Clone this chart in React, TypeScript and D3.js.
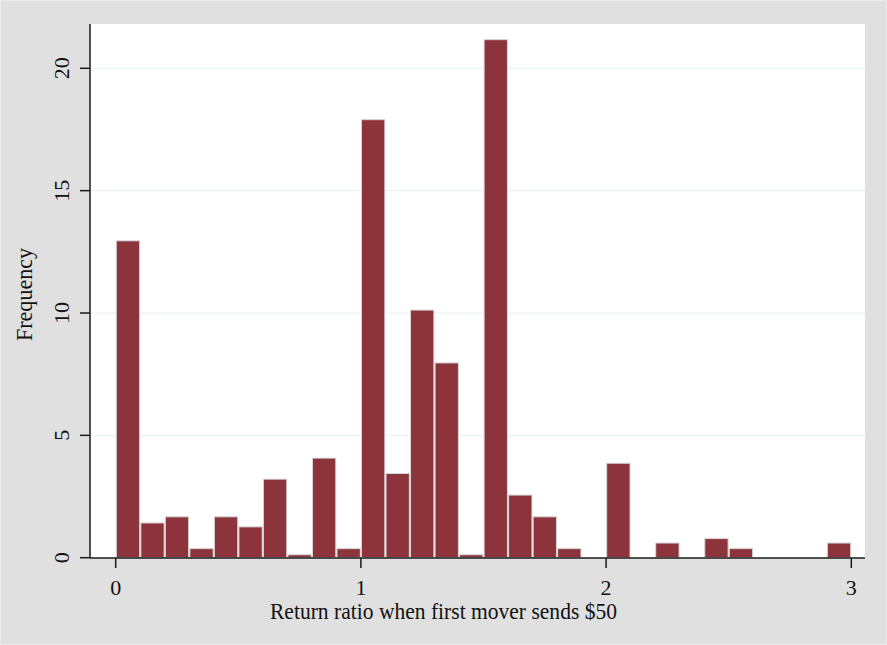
import React from "react";
import * as d3 from "d3";

const binStarts = [0, 0.1, 0.2, 0.3, 0.4, 0.5, 0.6, 0.7, 0.8, 0.9, 1.0, 1.1, 1.2, 1.3, 1.4, 1.5, 1.6, 1.7, 1.8, 1.9, 2.0, 2.1, 2.2, 2.3, 2.4, 2.5, 2.6, 2.7, 2.8, 2.9];
const frequencies = [12.95, 1.42, 1.67, 0.37, 1.67, 1.26, 3.21, 0.12, 4.07, 0.37, 17.9, 3.44, 10.12, 7.96, 0.12, 21.17, 2.56, 1.67, 0.37, 0, 3.86, 0, 0.6, 0, 0.78, 0.37, 0, 0, 0, 0.6];
const binWidth = 0.1;
const xTicks = [0, 1, 2, 3];
const yTicks = [0, 5, 10, 15, 20];
const xTitle = "Return ratio when first mover sends $50";
const yTitle = "Frequency";

const W = 887;
const H = 645;
const plotLeft = 90;
const plotRight = 865;
const plotTop = 24;
const plotBottom = 558;

export default function App() {
  const x = d3.scaleLinear().domain([0, 3]).range([115.7, 851.3]);
  const y = d3.scaleLinear().domain([0, 20]).range([557.7, 68.3]);
  const font = "'Liberation Serif', 'Times New Roman', serif";
  const barColor = "#8c333b";

  return (
    <svg width={W} height={H} style={{ position: "absolute", left: 0, top: 0, display: "block" }}>
      <rect x={0.5} y={0.5} width={W - 1} height={H - 1} fill="#e0e0e0" stroke="#ebebeb" strokeWidth={1} />
      <rect x={plotLeft} y={plotTop} width={plotRight - plotLeft} height={plotBottom - plotTop} fill="#ffffff" />
      {yTicks.slice(1).map((t) => (
        <line key={"g" + t} x1={plotLeft} x2={plotRight} y1={y(t)} y2={y(t)} stroke="#e8f0f2" strokeWidth={1} />
      ))}
      {binStarts.map((b, i) =>
        frequencies[i] > 0 ? (
          <rect
            key={"b" + i}
            x={x(b) + 0.6}
            y={y(frequencies[i])}
            width={x(b + binWidth) - x(b) - 1.2}
            height={y(0) - y(frequencies[i])}
            fill={barColor}
            stroke="#d6d6d6"
            strokeWidth={1}
          />
        ) : null
      )}
      <line x1={plotLeft} x2={plotLeft} y1={plotTop} y2={plotBottom} stroke="#1a1a1a" strokeWidth={1.5} />
      <line x1={plotLeft} x2={plotRight} y1={plotBottom} y2={plotBottom} stroke="#1a1a1a" strokeWidth={1.5} />
      {yTicks.map((t) => (
        <g key={"yt" + t}>
          <line x1={plotLeft - 10} x2={plotLeft} y1={y(t)} y2={y(t)} stroke="#1a1a1a" strokeWidth={1.5} />
          <text
            transform={`translate(${69},${y(t)}) rotate(-90)`}
            textAnchor="middle"
            fontFamily={font}
            fontSize={22}
            fill="#111"
          >
            {t}
          </text>
        </g>
      ))}
      {xTicks.map((t) => (
        <g key={"xt" + t}>
          <line x1={x(t)} x2={x(t)} y1={plotBottom} y2={plotBottom + 10} stroke="#1a1a1a" strokeWidth={1.5} />
          <text x={x(t)} y={595} textAnchor="middle" fontFamily={font} fontSize={22} fill="#111">
            {t}
          </text>
        </g>
      ))}
      <text
        x={270}
        y={619}
        fontFamily={font}
        fontSize={23}
        fill="#111"
        textLength={347}
        lengthAdjust="spacingAndGlyphs"
      >
        {xTitle}
      </text>
      <text
        transform={`translate(${31.5},${341}) rotate(-90)`}
        fontFamily={font}
        fontSize={23}
        fill="#111"
        textLength={93}
        lengthAdjust="spacingAndGlyphs"
      >
        {yTitle}
      </text>
    </svg>
  );
}
